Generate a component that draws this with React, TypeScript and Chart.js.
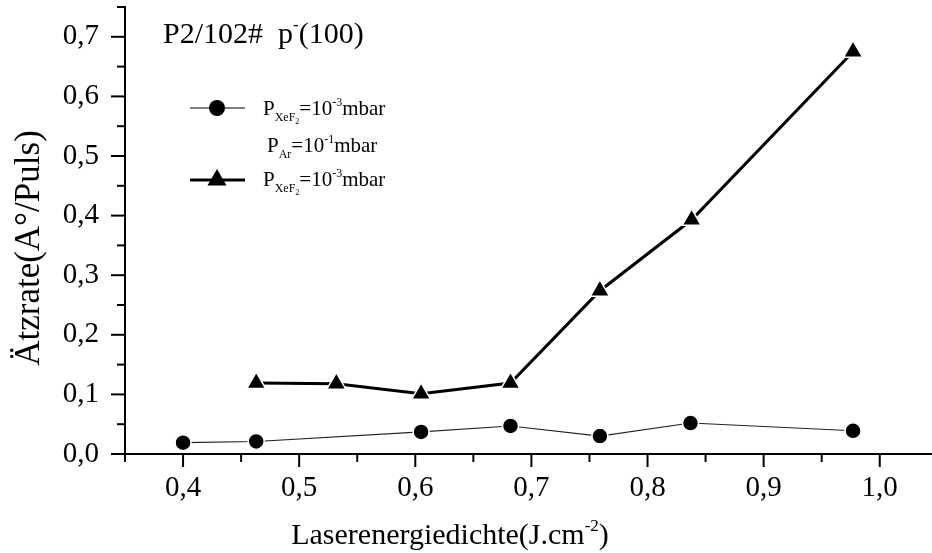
import React, { useEffect, useRef } from "react";
import { Chart, registerables } from "chart.js";

Chart.register(...registerables);

// ---- data ----
const circleX = [0.4, 0.463, 0.605, 0.682, 0.759, 0.837, 0.977];
const circleY = [0.019, 0.021, 0.037, 0.047, 0.030, 0.052, 0.039];
const triangleX = [0.463, 0.532, 0.605, 0.682, 0.759, 0.838, 0.977];
const triangleY = [0.119, 0.118, 0.101, 0.119, 0.274, 0.393, 0.675];

const xMajorTicks = [0.4, 0.5, 0.6, 0.7, 0.8, 0.9, 1.0];
const xMinorTicks = [0.35, 0.45, 0.55, 0.65, 0.75, 0.85, 0.95];
const yMajorTicks = [0, 0.1, 0.2, 0.3, 0.4, 0.5, 0.6, 0.7];
const yMinorTicks = [0.05, 0.15, 0.25, 0.35, 0.45, 0.55, 0.65, 0.75];

const FONT = '"Liberation Serif", "Times New Roman", serif';

type Seg = { t: string; size: number; dy: number };

function segWidth(ctx: CanvasRenderingContext2D, segs: Seg[]) {
  let w = 0;
  for (const s of segs) {
    ctx.font = `${s.size}px ${FONT}`;
    w += ctx.measureText(s.t).width;
  }
  return w;
}

function drawSegs(ctx: CanvasRenderingContext2D, segs: Seg[], x: number, y: number) {
  let cx = x;
  ctx.textAlign = "left";
  ctx.textBaseline = "alphabetic";
  for (const s of segs) {
    ctx.font = `${s.size}px ${FONT}`;
    ctx.fillText(s.t, cx, y + s.dy);
    cx += ctx.measureText(s.t).width;
  }
}

function fmt(v: number) {
  return v.toFixed(1).replace(".", ",");
}

const decor = {
  id: "decor",
  afterDraw(chart: any) {
    const ctx: CanvasRenderingContext2D = chart.ctx;
    const xs = chart.scales.x;
    const ys = chart.scales.y;
    const ca = chart.chartArea;
    ctx.save();
    ctx.strokeStyle = "#000";
    ctx.lineWidth = 2;
    ctx.lineCap = "butt";
    const ln = (x1: number, y1: number, x2: number, y2: number) => {
      ctx.beginPath();
      ctx.moveTo(x1, y1);
      ctx.lineTo(x2, y2);
      ctx.stroke();
    };
    for (const v of xMajorTicks) {
      const p = xs.getPixelForValue(v);
      ln(p, ca.bottom, p, ca.bottom + 13);
    }
    for (const v of xMinorTicks) {
      const p = xs.getPixelForValue(v);
      ln(p, ca.bottom, p, ca.bottom + 8);
    }
    for (const v of yMajorTicks) {
      const p = ys.getPixelForValue(v);
      ln(ca.left - 14, p, ca.left, p);
    }
    for (const v of yMinorTicks) {
      const p = ys.getPixelForValue(v);
      ln(ca.left - 8, p, ca.left, p);
    }

    ctx.fillStyle = "#000";
    // header
    drawSegs(
      ctx,
      [
        { t: "P2/102#  p", size: 30, dy: 0 },
        { t: "-", size: 17, dy: -13 },
        { t: "(100)", size: 30, dy: 0 },
      ],
      163,
      43
    );

    // legend row 1
    ctx.lineWidth = 1.2;
    ln(190, 108, 245, 108);
    ctx.beginPath();
    ctx.arc(217, 108, 8, 0, Math.PI * 2);
    ctx.fill();
    drawSegs(
      ctx,
      [
        { t: "P", size: 21, dy: 0 },
        { t: "XeF", size: 12, dy: 6 },
        { t: "2", size: 8, dy: 9 },
        { t: "=10", size: 21, dy: 0 },
        { t: "-3", size: 12, dy: -9 },
        { t: "mbar", size: 21, dy: 0 },
      ],
      263,
      115
    );
    // legend row 2
    drawSegs(
      ctx,
      [
        { t: "P", size: 21, dy: 0 },
        { t: "Ar", size: 12, dy: 6 },
        { t: "=10", size: 21, dy: 0 },
        { t: "-1", size: 12, dy: -9 },
        { t: "mbar", size: 21, dy: 0 },
      ],
      267,
      152
    );
    // legend row 3
    ctx.lineWidth = 3;
    ln(190, 180, 245, 180);
    const r = 11;
    ctx.beginPath();
    ctx.moveTo(217, 180 - r);
    ctx.lineTo(217 + r * Math.sin((2 * Math.PI) / 3), 180 - r * Math.cos((2 * Math.PI) / 3));
    ctx.lineTo(217 + r * Math.sin((4 * Math.PI) / 3), 180 - r * Math.cos((4 * Math.PI) / 3));
    ctx.closePath();
    ctx.fill();
    drawSegs(
      ctx,
      [
        { t: "P", size: 21, dy: 0 },
        { t: "XeF", size: 12, dy: 6 },
        { t: "2", size: 8, dy: 9 },
        { t: "=10", size: 21, dy: 0 },
        { t: "-3", size: 12, dy: -9 },
        { t: "mbar", size: 21, dy: 0 },
      ],
      263,
      186
    );

    // x title
    const xt: Seg[] = [
      { t: "Laserenergiedichte(J.cm", size: 30, dy: 0 },
      { t: "-2", size: 17, dy: -13 },
      { t: ")", size: 30, dy: 0 },
    ];
    const w = segWidth(ctx, xt);
    drawSegs(ctx, xt, 450 - w / 2, 544);

    // y title
    ctx.save();
    ctx.translate(30, 248);
    ctx.rotate(-Math.PI / 2);
    ctx.font = `35px ${FONT}`;
    ctx.textAlign = "center";
    ctx.textBaseline = "middle";
    ctx.fillText("Ätzrate(A°/Puls)", 0, 0);
    ctx.restore();

    ctx.restore();
  },
};

export default function App() {
  const ref = useRef<HTMLCanvasElement | null>(null);
  useEffect(() => {
    document.body.style.margin = "0";
    const canvas = ref.current!;
    const chart = new Chart(canvas, {
      type: "scatter",
      data: {
        datasets: [
          {
            label: "circles",
            data: circleX.map((x, i) => ({ x, y: circleY[i] })),
            showLine: true,
            borderColor: "#222",
            borderWidth: 1.2,
            pointStyle: "circle",
            pointRadius: 8,
            pointBackgroundColor: "#000",
            pointBorderColor: "#fff",
            pointBorderWidth: 1.5,
          },
          {
            label: "triangles",
            data: triangleX.map((x, i) => ({ x, y: triangleY[i] })),
            showLine: true,
            borderColor: "#000",
            borderWidth: 3,
            pointStyle: "triangle",
            pointRadius: 11,
            pointBackgroundColor: "#000",
            pointBorderColor: "#fff",
            pointBorderWidth: 1.5,
          },
        ],
      },
      options: {
        animation: false,
        responsive: false,
        devicePixelRatio: 1,
        layout: { autoPadding: false, padding: { top: 7, right: 0, left: 0, bottom: 0 } },
        plugins: { legend: { display: false }, tooltip: { enabled: false } },
        scales: {
          x: {
            type: "linear",
            min: 0.35,
            max: 1.045,
            afterBuildTicks: (s: any) => {
              s.ticks = xMajorTicks.map((v) => ({ value: v }));
            },
            afterFit: (s: any) => {
              s.height = 99;
              s.paddingLeft = 0;
              s.paddingRight = 0;
            },
            grid: {
              display: true,
              drawOnChartArea: false,
              drawTicks: true,
              tickLength: 13,
              color: "rgba(0,0,0,0)",
            },
            border: { display: true, color: "#000", width: 2 },
            ticks: {
              autoSkip: false,
              maxRotation: 0,
              padding: 4,
              color: "#000",
              font: { family: FONT, size: 29 },
              callback: (v: any) => fmt(Number(v)),
            },
          },
          y: {
            type: "linear",
            min: 0,
            max: 0.75,
            afterBuildTicks: (s: any) => {
              s.ticks = yMajorTicks.map((v) => ({ value: v }));
            },
            afterFit: (s: any) => {
              s.width = 125;
              s.paddingTop = 0;
              s.paddingBottom = 0;
            },
            grid: {
              display: true,
              drawOnChartArea: false,
              drawTicks: true,
              tickLength: 14,
              color: "rgba(0,0,0,0)",
            },
            border: { display: true, color: "#000", width: 2 },
            ticks: {
              autoSkip: false,
              padding: 12,
              color: "#000",
              font: { family: FONT, size: 29, lineHeight: 0.42 },
              callback: (v: any) => fmt(Number(v)),
            },
          },
        },
      },
      plugins: [decor],
    });
    return () => chart.destroy();
  }, []);
  return (
    <canvas
      ref={ref}
      width={932}
      height={553}
      style={{ display: "block", width: 932, height: 553 }}
    />
  );
}
